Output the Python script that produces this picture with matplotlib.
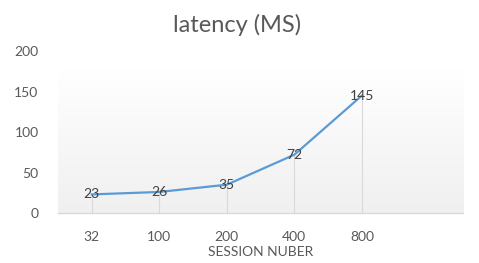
import numpy as np
import matplotlib.pyplot as plt
from matplotlib.colors import LinearSegmentedColormap

categories = ['32', '100', '200', '400', '800', '']
latency = [23, 26, 35, 72, 145]
y_ticks = [0, 50, 100, 150, 200]

plt.rcParams['font.family'] = ['Lato', 'DejaVu Sans']

fig = plt.figure(figsize=(4.79, 2.63), dpi=100)
ax = fig.add_axes([0.121, 0.190, 0.846, 0.616])

n = len(categories)
ax.set_xlim(-0.5, n - 0.5)
ax.set_ylim(0, 200)

# plot area gradient (white at top, light gray at bottom)
cmap = LinearSegmentedColormap.from_list('bg', ['#f0f0f0', '#ffffff'])
grad = np.linspace(0, 1, 256).reshape(-1, 1)
ax.imshow(grad, cmap=cmap, origin='lower', aspect='auto',
          extent=[-0.5, n - 0.5, 0, 177], zorder=0)

x = np.arange(len(latency))
ax.vlines(x, 0, latency, color='#d9d9d9', linewidth=0.8, zorder=1)
ax.plot(x, latency, color='#5b9bd5', linewidth=1.6, zorder=2)
for xi, v in zip(x, latency):
    ax.text(xi, v, str(v), ha='center', va='center', fontsize=10,
            color='#404040', zorder=3)

for s in ['top', 'right', 'left']:
    ax.spines[s].set_visible(False)
ax.spines['bottom'].set_color('#d9d9d9')
ax.spines['bottom'].set_linewidth(1.0)

ax.set_xticks(range(n))
ax.set_xticklabels(categories)
ax.set_yticks(y_ticks)
ax.tick_params(axis='both', length=0, labelsize=10, labelcolor='#595959')
ax.tick_params(axis='x', pad=13)
ax.tick_params(axis='y', pad=14)

ax.set_xlabel('SESSION NUBER', fontsize=10, color='#595959', labelpad=2)
fig.text(0.495, 0.905, 'latency (MS)', ha='center', va='center',
         fontsize=17, color='#595959')

fig.savefig('out.png', dpi=100)
